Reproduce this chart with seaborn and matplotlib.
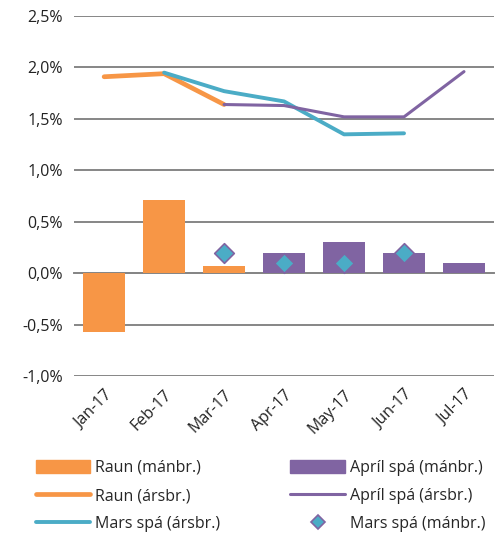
import numpy as np
import pandas as pd
import matplotlib
matplotlib.use("Agg")
import matplotlib.pyplot as plt
import seaborn as sns
from matplotlib.ticker import FuncFormatter
from matplotlib.lines import Line2D
from matplotlib.patches import Patch

# data
months = ["Jan-17", "Feb-17", "Mar-17", "Apr-17", "May-17", "Jun-17", "Jul-17"]
raun_man = [-0.57, 0.71, 0.07, np.nan, np.nan, np.nan, np.nan]
april_man = [np.nan, np.nan, np.nan, 0.20, 0.30, 0.20, 0.10]
raun_ars = [1.91, 1.94, 1.64, np.nan, np.nan, np.nan, np.nan]
april_ars = [np.nan, np.nan, 1.64, 1.63, 1.52, 1.52, 1.96]
mars_ars = [np.nan, 1.95, 1.77, 1.67, 1.35, 1.36, np.nan]
mars_man = [np.nan, np.nan, 0.20, 0.10, 0.10, 0.20, np.nan]

orange = "#F79646"
purple = "#8064A2"
cyan = "#4BACC6"
grid = "#868686"

sns.set_style("white")
plt.rcParams["font.family"] = ["Open Sans", "DejaVu Sans"]
plt.rcParams["font.size"] = 11

fig = plt.figure(figsize=(5.01, 5.36), dpi=100)
ax = fig.add_axes([0.148, 0.2985, 0.838, 0.6715])

x = np.arange(len(months))
bars = pd.DataFrame({
    "month": months * 2,
    "val": raun_man + april_man,
    "series": ["Raun (mánbr.)"] * 7 + ["Apríl spá (mánbr.)"] * 7,
})
bars = bars.dropna()
sns.barplot(data=bars, x="month", y="val", hue="series", order=months,
            palette=[orange, purple], dodge=False, width=0.7, ax=ax,
            legend=False, saturation=1, linewidth=0, zorder=3)

def line(vals, color, lw):
    s = pd.Series(vals, index=x).dropna()
    sns.lineplot(x=s.index, y=s.values, color=color, linewidth=lw, ax=ax,
                 zorder=4, solid_capstyle="round", solid_joinstyle="round")

line(raun_ars, orange, 3.4)
line(mars_ars, cyan, 2.8)
line(april_ars, purple, 2.2)

m = pd.Series(mars_man, index=x).dropna()
sns.scatterplot(x=m.index, y=m.values, marker="D", s=100, color=cyan,
                edgecolor=purple, linewidth=1.2, ax=ax, zorder=5)

ax.set_ylim(-1.0, 2.5)
ax.set_xlim(-0.5, 6.5)
ax.set_yticks(np.arange(-1.0, 2.51, 0.5))
ax.yaxis.set_major_formatter(FuncFormatter(lambda v, p: f"{v:.1f}%".replace(".", ",")))
ax.yaxis.grid(True, color=grid, linewidth=1.4)
ax.set_axisbelow(True)
ax.tick_params(axis="y", length=0, pad=8, labelsize=11.5, colors="#222222")
for s in ["left", "right", "top"]:
    ax.spines[s].set_visible(False)
ax.spines["bottom"].set_position(("data", 0))
ax.spines["bottom"].set_color(grid)
ax.spines["bottom"].set_linewidth(1.4)
ax.spines["bottom"].set_zorder(2)
ax.set_xticks(np.arange(-0.5, 7.0, 1.0))
ax.set_xticklabels([])
ax.tick_params(axis="x", length=5, width=1.2, color=grid, direction="out")
ax.set_xlabel("")
ax.set_ylabel("")

sec = ax.secondary_xaxis(0.0)
sec.set_xticks(x)
sec.set_xticklabels(months, rotation=45, ha="right", rotation_mode="anchor",
                    fontsize=11.5, color="#222222")
sec.tick_params(length=0, pad=8)
sec.spines["bottom"].set_visible(False)

handles = [
    Patch(color=orange),
    Line2D([], [], color=orange, lw=3.4, solid_capstyle="round"),
    Line2D([], [], color=cyan, lw=2.8, solid_capstyle="round"),
    Patch(color=purple),
    Line2D([], [], color=purple, lw=2.2, solid_capstyle="round"),
    Line2D([], [], color=cyan, marker="D", markersize=7.5, markeredgecolor=purple,
           markeredgewidth=1.2, linestyle="none"),
]
labels = ["Raun (mánbr.)", "Raun (ársbr.)", "Mars spá (ársbr.)",
          "Apríl spá (mánbr.)", "Apríl spá (ársbr.)", "Mars spá (mánbr.)"]
fig.legend(handles, labels, ncol=2, loc="upper left", bbox_to_anchor=(0.059, 0.154),
           frameon=False, fontsize=11.5, handlelength=3.4, handleheight=0.9,
           handletextpad=0.3, columnspacing=4.4, labelspacing=0.75,
           borderaxespad=0)

fig.savefig("out.png", dpi=100)
